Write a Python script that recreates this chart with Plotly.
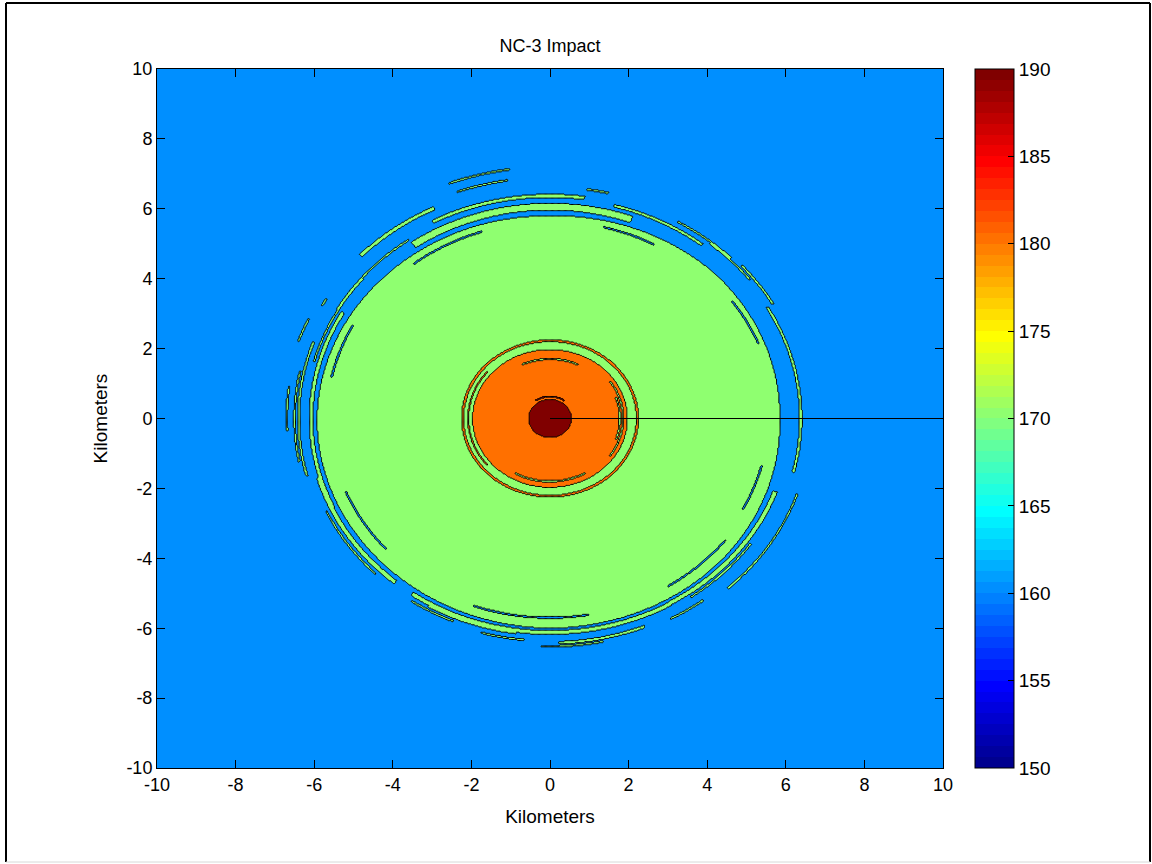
import numpy as np
import plotly.graph_objects as go

# ---------------- data ----------------
title_text = "NC-3 Impact"
x_title = "Kilometers"
y_title = "Kilometers"
axis_ticks_km = [-10, -8, -6, -4, -2, 0, 2, 4, 6, 8, 10]
contour_levels_db = [160, 170, 180, 190]
colorbar_ticks_db = [150, 155, 160, 165, 170, 175, 180, 185, 190]
colorbar_range_db = [150, 190]

# concentric zones around the source (outer radius in km, level in dB)
zone_outer_radius_km = [2.26, 2.19, 1.97, 0.55]
zone_level_db = [182, 176, 184, 193]
disk_level_db = 174
background_level_db = 165

# outer edge of the 170 dB disk, by bearing
edge_bearing_deg = [0, 45, 90, 135, 180, 225, 270, 315, 360]
edge_radius_km = [5.85, 5.9, 5.8, 5.85, 5.93, 5.94, 6.0, 5.96, 5.85]

# fragmentary arcs: radius, width, bearing from, bearing to, level
arc_radius_km = [6.06, 6.37, 6.30, 6.70, 6.08, 6.40, 6.12, 6.12, 6.42, 6.38, 6.10, 6.55,
                 7.20, 6.90, 6.70, 6.50, 6.77, 6.64, 6.65, 6.30, 6.37, 6.52, 6.50, 6.64, 6.62, 6.45,
                 6.25, 6.22, 6.28, 6.20, 6.24, 6.50,
                 5.62, 5.68, 5.60, 5.70, 5.66, 5.72, 5.55, 5.64,
                 1.86, 1.78, 1.70, 1.80, 0.63, 2.08]
arc_width_km = [0.20, 0.10, 0.08, 0.10, 0.10, 0.06, 0.12, 0.12, 0.08, 0.07, 0.12, 0.06,
                0.05, 0.05, 0.05, 0.05, 0.05, 0.05, 0.05, 0.05, 0.05, 0.05, 0.05, 0.05, 0.05, 0.05,
                0.05, 0.05, 0.05, 0.05, 0.05, 0.05,
                0.04, 0.04, 0.04, 0.04, 0.04, 0.04, 0.04, 0.04,
                0.04, 0.04, 0.04, 0.04, 0.04, 0.04]
arc_from_deg = [70, 82, 52, 116, 150, 160, 196, 235, 272, 346, 300, 30,
                98, 99, 172, 168, 155, 149, 318, 236, 254, 268, 298, 313, 77, 38,
                125, 140, 205, 240, 305, 45,
                108, 152, 202, 250, 302, 22, 332, 62,
                325, 340, 65, 240, 55, 140]
arc_to_deg = [125, 118, 75, 136, 205, 195, 230, 300, 292, 30, 340, 42,
              111, 110, 183, 191, 161, 151, 341, 247, 264, 282, 307, 322, 82, 51,
              150, 165, 225, 262, 325, 60,
              128, 168, 222, 280, 322, 36, 346, 76,
              35, 20, 115, 300, 125, 220]
arc_level_db = [174, 174, 174, 174, 174, 174, 174, 174, 174, 174, 174, 174,
                174, 174, 174, 174, 174, 174, 174, 174, 174, 174, 174, 174, 174, 174,
                174, 174, 174, 174, 174, 174,
                165, 165, 165, 165, 165, 165, 165, 165,
                176, 176, 176, 176, 193, 182]

# straight transect drawn from the source
transect_x_km = [0, 10]
transect_y_km = [0, 0]

# ---------------- build the gridded field ----------------
step = 0.03
xs = np.arange(-10, 10 + step / 2, step)
ys = np.arange(-10, 10 + step / 2, step)
X, Y = np.meshgrid(xs, ys)
R = np.hypot(X, Y)
TH = np.degrees(np.arctan2(Y, X)) % 360

Z = np.full(X.shape, background_level_db, dtype=np.int16)
edge = np.interp(TH, edge_bearing_deg, edge_radius_km)
Z[R <= edge] = disk_level_db
for r_out, lvl in zip(zone_outer_radius_km, zone_level_db):
    Z[R <= r_out] = lvl
for r, w, t0, t1, lvl in zip(arc_radius_km, arc_width_km, arc_from_deg, arc_to_deg, arc_level_db):
    span = (t1 - t0) % 360
    inside = ((TH - t0) % 360) <= span
    Z[(np.abs(R - r) <= w / 2) & inside] = lvl


def jet(v):
    r = np.clip(1.5 - abs(4 * v - 3), 0, 1)
    g = np.clip(1.5 - abs(4 * v - 2), 0, 1)
    b = np.clip(1.5 - abs(4 * v - 1), 0, 1)
    return "rgb(%d,%d,%d)" % (round(r * 255), round(g * 255), round(b * 255))


# 64-step jet for the colour bar (MATLAB style)
n = 64
jet64 = []
for i in range(n):
    c = jet((i + 1) / n)
    jet64.append([i / n, c])
    jet64.append([(i + 1) / n, c])

lo, hi = colorbar_range_db


def level_color(v):
    idx = min(n, int(np.floor((v - lo) / (hi - lo) * n)) + 1)
    return jet(idx / n)


# fill colours of the bands (value of the lower contour level)
band_cols = [level_color(lo)] + [level_color(v) for v in contour_levels_db]
fill_scale = [
    [0.0, band_cols[0]], [0.125, band_cols[0]],
    [0.125, band_cols[1]], [0.375, band_cols[1]],
    [0.375, band_cols[2]], [0.625, band_cols[2]],
    [0.625, band_cols[3]], [0.875, band_cols[3]],
    [0.875, band_cols[4]], [1.0, band_cols[4]],
]

fig = go.Figure()
fig.add_trace(go.Contour(
    x=xs, y=ys, z=Z,
    contours=dict(start=contour_levels_db[0], end=contour_levels_db[-1],
                  size=contour_levels_db[1] - contour_levels_db[0], coloring="fill"),
    colorscale=fill_scale, showscale=False,
    line=dict(color="black", width=1),
    hoverinfo="skip",
))
fig.add_trace(go.Scatter(
    x=transect_x_km, y=transect_y_km, mode="lines",
    line=dict(color="black", width=1), hoverinfo="skip",
))
fig.add_trace(go.Scatter(
    x=[None], y=[None], mode="markers",
    marker=dict(color=[lo], colorscale=jet64, cmin=lo, cmax=hi, showscale=True,
                colorbar=dict(
                    x=(975 - 157) / 786, xanchor="left", xref="paper",
                    y=0.5, yanchor="middle", len=1.0, lenmode="fraction",
                    thickness=39, thicknessmode="pixels",
                    outlinewidth=1, outlinecolor="black",
                    tickvals=colorbar_ticks_db, ticks="inside", ticklen=6,
                    tickcolor="black", tickfont=dict(size=19), xpad=0, ypad=0,
                )),
    hoverinfo="skip",
))

tick_text = [str(v) for v in axis_ticks_km]
axis_common = dict(
    range=[-10, 10], tickvals=axis_ticks_km, ticktext=tick_text, ticks="inside", ticklen=8,
    tickcolor="black", showline=True, linecolor="black", linewidth=1,
    mirror="ticks", showgrid=False, zeroline=False, tickfont=dict(size=18),
)
fig.update_xaxes(**axis_common, title=dict(text=x_title, font=dict(size=19), standoff=16))
fig.update_yaxes(**axis_common, title=dict(text=y_title, font=dict(size=19), standoff=13))

# outer figure frame
fx0, fx1 = (6 - 157) / 786, (1150 - 157) / 786
fy0, fy1 = (768 - 862) / 699, (768 - 3) / 699
fig.add_shape(type="line", xref="paper", yref="paper", x0=fx0, y0=fy0, x1=fx0, y1=fy1,
              line=dict(color="black", width=2))
fig.add_shape(type="line", xref="paper", yref="paper", x0=fx0, y0=fy1, x1=fx1, y1=fy1,
              line=dict(color="black", width=2))
fig.add_shape(type="line", xref="paper", yref="paper", x0=fx1, y0=fy0, x1=fx1, y1=fy1,
              line=dict(color="black", width=2))
fig.add_shape(type="line", xref="paper", yref="paper", x0=fx0, y0=fy0, x1=fx1, y1=fy0,
              line=dict(color="#d8d8d8", width=1))

fig.update_layout(
    width=1152, height=864,
    margin=dict(l=157, r=209, t=69, b=96),
    paper_bgcolor="white", plot_bgcolor=band_cols[1],
    font=dict(family="Liberation Sans, Arial, Helvetica, sans-serif", color="black", size=16),
    showlegend=False,
    title=dict(text=title_text, x=0.5, xref="paper", xanchor="center",
               y=1 - 46 / 864, yref="container", yanchor="middle", font=dict(size=18)),
)

fig.write_html("out.html", config={"displayModeBar": False},
               post_script="document.body.style.margin='0px';")
